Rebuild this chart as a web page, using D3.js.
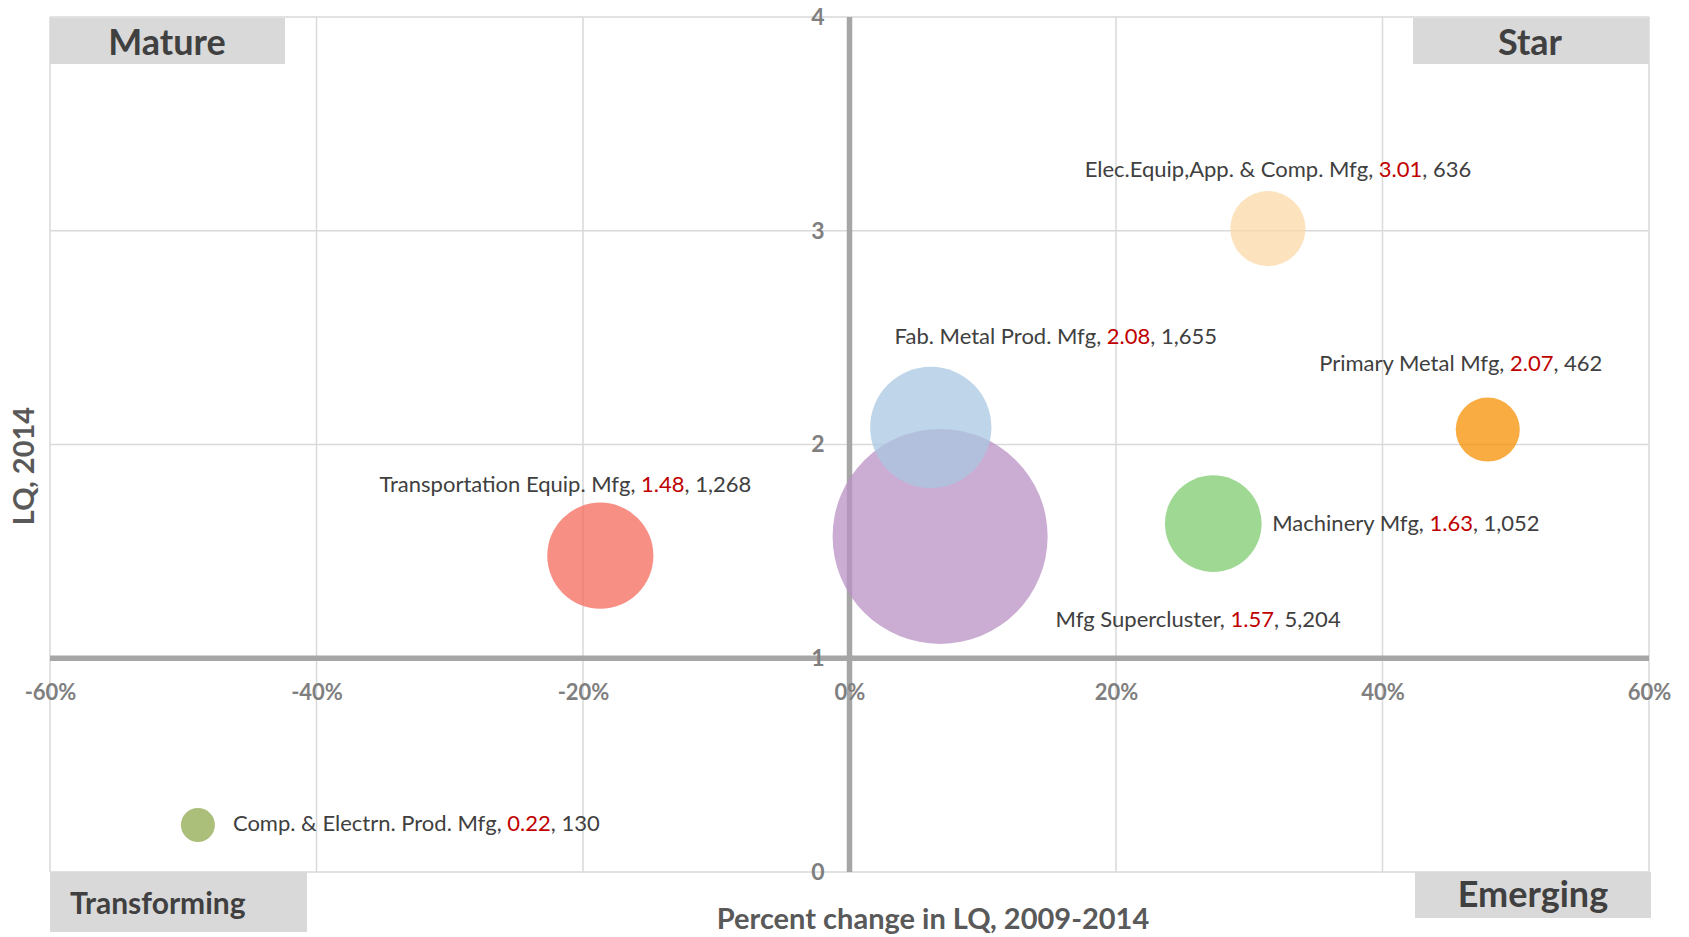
<!DOCTYPE html>
<html lang="en">
<head>
<meta charset="UTF-8">
<title>Manufacturing clusters – LQ bubble chart</title>
<script src="https://d3js.org/d3.v7.min.js"></script>
<style>
    body { margin: 0; background: #fff; }
    svg { display: block; font-family: Lato, "Open Sans", sans-serif; }
    .grid line { stroke: #d9d9d9; stroke-width: 1.5; }
    .tick-lbl { fill: #7f7f7f; font-weight: 700; font-size: 22px; }
    .y-lbl { font-size: 23px; }
    .axis-title { fill: #595959; font-weight: 700; font-size: 29px; }
    .quad rect { fill: #d9d9d9; }
    .quad text { fill: #404040; font-weight: 700; font-size: 36px; }
    .quad text.small { font-size: 30px; }
    .bubble-lbl { fill: #404040; font-size: 22px; }
    .bubble-lbl .lq { fill: #c00000; }
</style>
</head>
<body>
<svg id="chart" width="1689" height="937"></svg>
<script>
// data
const clusters = ["Mfg Supercluster", "Fab. Metal Prod. Mfg", "Transportation Equip. Mfg",
    "Machinery Mfg", "Elec.Equip,App. & Comp. Mfg", "Primary Metal Mfg", "Comp. & Electrn. Prod. Mfg"];
const pctChange = [0.068, 0.061, -0.187, 0.273, 0.314, 0.479, -0.489];
const lq2014 = [1.57, 2.08, 1.48, 1.63, 3.01, 2.07, 0.22];
const employment = [5204, 1655, 1268, 1052, 636, 462, 130];
const colors = ["#ba90c4", "#a9c7e1", "#f66a5c", "#7ecb6f", "#fcd8a8", "#f69003", "#8fa84e"];

const xTicks = [-0.6, -0.4, -0.2, 0, 0.2, 0.4, 0.6];
const yTicks = [0, 1, 2, 3, 4];

// label placement (pixel offset from bubble centre)
const labelOffsets = [
    { dx: 258, dy: 91, anchor: "middle" },
    { dx: 125, dy: -83, anchor: "middle" },
    { dx: -35, dy: -64, anchor: "middle" },
    { dx: 59, dy: 7, anchor: "start" },
    { dx: 10, dy: -52, anchor: "middle" },
    { dx: -27, dy: -59, anchor: "middle" },
    { dx: 35, dy: 6, anchor: "start" }
];

const svg = d3.select("#chart");

const x = d3.scaleLinear().domain([-0.6, 0.6]).range([50, 1649]);
const y = d3.scaleLinear().domain([0, 4]).range([872, 17]);
const r = d3.scaleSqrt().domain([0, 5204]).range([0, 107.5]);

// gridlines
const grid = svg.append("g").attr("class", "grid");
grid.selectAll(".v").data(xTicks.filter(d => d !== 0)).join("line")
    .attr("x1", d => x(d)).attr("x2", d => x(d))
    .attr("y1", y(0)).attr("y2", y(4));
grid.selectAll(".h").data(yTicks.filter(d => d !== 1)).join("line")
    .attr("x1", x(-0.6)).attr("x2", x(0.6))
    .attr("y1", d => y(d)).attr("y2", d => y(d));

// main axes crossing at (0%, 1)
svg.append("line")
    .attr("x1", x(0)).attr("x2", x(0)).attr("y1", y(0)).attr("y2", y(4))
    .attr("stroke", "#a6a6a6").attr("stroke-width", 5.5);
svg.append("line")
    .attr("x1", x(-0.6)).attr("x2", x(0.6)).attr("y1", y(1)).attr("y2", y(1))
    .attr("stroke", "#a6a6a6").attr("stroke-width", 5.5);

// tick labels via d3 axes (plain hyphen for negatives, like the original)
const pctFmt = d => Math.round(d * 100) + "%";
const xAxis = svg.append("g")
    .attr("transform", `translate(0,${y(1)})`)
    .call(d3.axisBottom(x).tickValues(xTicks).tickSize(0).tickPadding(26).tickFormat(pctFmt));
const yAxis = svg.append("g")
    .attr("transform", `translate(${x(0)},0)`)
    .call(d3.axisLeft(y).tickValues(yTicks).tickSize(0).tickPadding(25).tickFormat(d3.format("d")));
[xAxis, yAxis].forEach(g => {
    g.select(".domain").remove();
    g.selectAll("text").attr("class", "tick-lbl").attr("fill", null);
    g.attr("font-family", null).attr("font-size", null);
});
yAxis.selectAll("text").classed("y-lbl", true);

// bubbles
const data = clusters.map((name, i) => ({
    name, pct: pctChange[i], lq: lq2014[i], emp: employment[i], color: colors[i], off: labelOffsets[i]
}));

svg.append("g").selectAll("circle").data(data).join("circle")
    .attr("cx", d => x(d.pct))
    .attr("cy", d => y(d.lq))
    .attr("r", d => r(d.emp))
    .attr("fill", d => d.color)
    .attr("fill-opacity", 0.75);

// bubble labels
const lbl = svg.append("g").selectAll("text").data(data).join("text")
    .attr("class", "bubble-lbl")
    .attr("x", d => x(d.pct) + d.off.dx)
    .attr("y", d => y(d.lq) + d.off.dy)
    .attr("text-anchor", d => d.off.anchor);
lbl.append("tspan").text(d => d.name + ", ");
lbl.append("tspan").attr("class", "lq").text(d => d.lq.toFixed(2));
lbl.append("tspan").text(d => ", " + d3.format(",")(d.emp));

// quadrant tags
const quads = [
    { t: "Mature", x0: 50, x1: 285, y0: 18, y1: 64, tx: 167, ty: 55, a: "middle" },
    { t: "Star", x0: 1413, x1: 1649, y0: 18, y1: 64, tx: 1530, ty: 55, a: "middle" },
    { t: "Transforming", x0: 50, x1: 307, y0: 872, y1: 932, tx: 70, ty: 914, a: "start", cls: "small" },
    { t: "Emerging", x0: 1415, x1: 1651, y0: 872, y1: 918, tx: 1533, ty: 907, a: "middle" }
];
const q = svg.append("g").attr("class", "quad").selectAll("g").data(quads).join("g");
q.append("rect")
    .attr("x", d => d.x0).attr("y", d => d.y0)
    .attr("width", d => d.x1 - d.x0).attr("height", d => d.y1 - d.y0);
q.append("text")
    .attr("class", d => d.cls || null)
    .attr("x", d => d.tx).attr("y", d => d.ty)
    .attr("text-anchor", d => d.a)
    .text(d => d.t);

// axis titles
svg.append("text").attr("class", "axis-title")
    .attr("x", 933).attr("y", 929).attr("text-anchor", "middle")
    .text("Percent change in LQ, 2009-2014");
svg.append("text").attr("class", "axis-title")
    .attr("transform", "translate(34,466) rotate(-90)")
    .attr("text-anchor", "middle")
    .text("LQ, 2014");
</script>
</body>
</html>
